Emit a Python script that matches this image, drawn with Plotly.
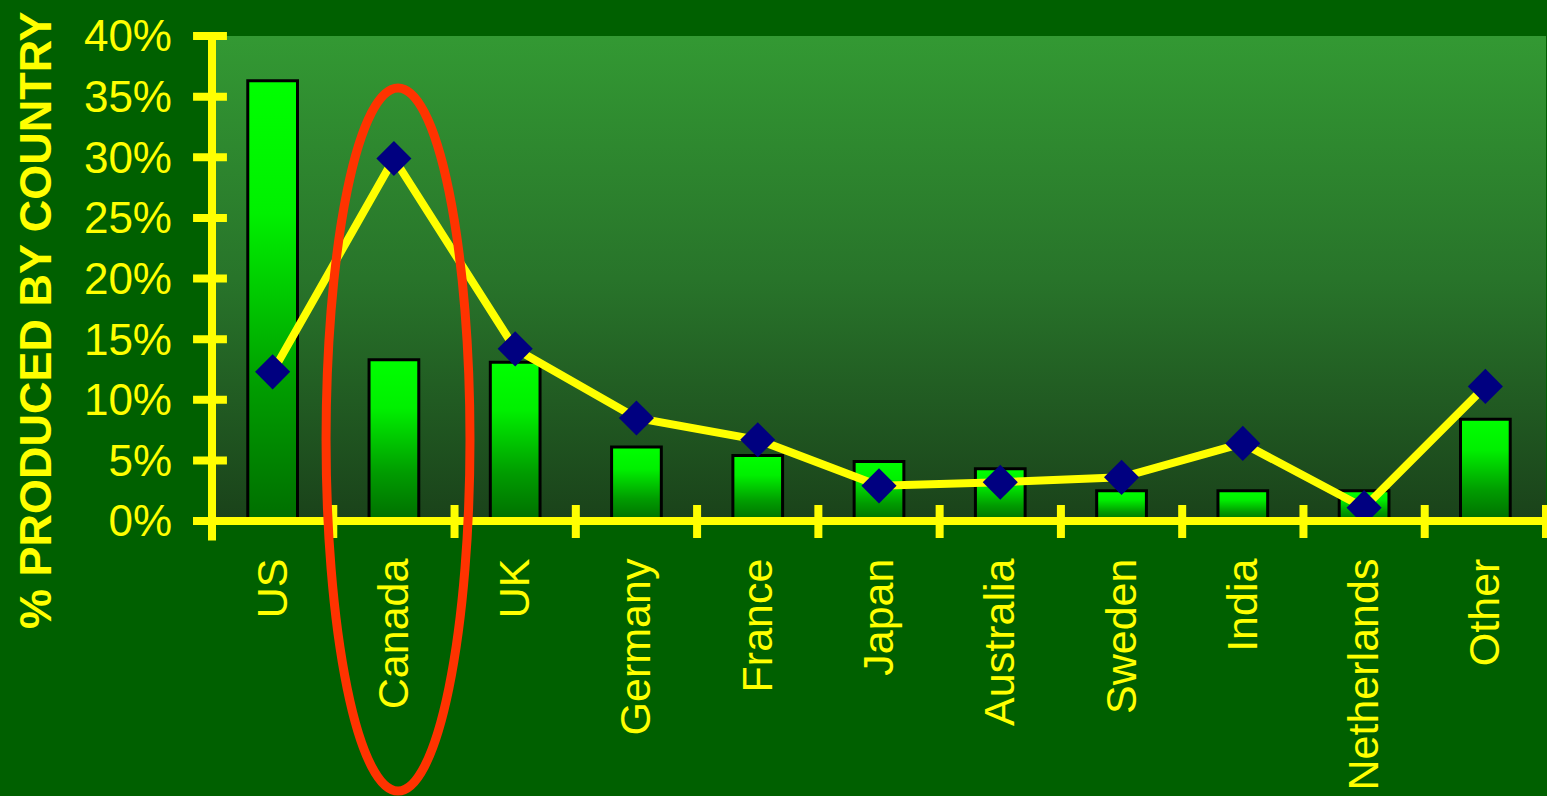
import plotly.graph_objects as go

# ---- data ----
countries = ["US", "Canada", "UK", "Germany", "France", "Japan",
             "Australia", "Sweden", "India", "Netherlands", "Other"]
bar_values = [36.3, 13.3, 13.1, 6.1, 5.4, 4.9, 4.3, 2.5, 2.5, 2.5, 8.4]
line_values = [12.3, 29.9, 14.2, 8.5, 6.7, 2.9, 3.2, 3.6, 6.4, 1.1, 11.1]
y_tick_values = [0, 5, 10, 15, 20, 25, 30, 35, 40]
y_tick_labels = ["0%", "5%", "10%", "15%", "20%", "25%", "30%", "35%", "40%"]
y_title = "% PRODUCED BY COUNTRY"

YELLOW = "#ffff00"
OUTER = "#006000"
FONT = "Liberation Sans, Arial, sans-serif"

n = len(countries)
x_idx = list(range(n))
half_w = 0.205
y_max = y_tick_values[-1]

fig = go.Figure()

# plot-area gradient background
fig.add_trace(go.Scatter(
    x=[-0.5, -0.5, n - 0.5, n - 0.5, -0.5],
    y=[0, y_max, y_max, 0, 0],
    mode="lines", line=dict(width=0), fill="toself",
    fillgradient=dict(type="vertical",
                      colorscale=[[0, "rgb(26,66,26)"], [0.5, "rgb(40,116,42)"],
                                  [1, "rgb(51,153,51)"]]),
    hoverinfo="skip", showlegend=False))

# bars with vertical gradient
for i, v in zip(x_idx, bar_values):
    fig.add_trace(go.Scatter(
        x=[i - half_w, i - half_w, i + half_w, i + half_w, i - half_w],
        y=[0, v, v, 0, 0],
        mode="lines", line=dict(color="black", width=3),
        fill="toself",
        fillgradient=dict(type="vertical",
                          colorscale=[[0, "#006e00"], [0.3, "#009c00"],
                                      [0.7, "#00f000"], [1, "#00ff00"]]),
        hoverinfo="skip", showlegend=False))

# line with diamond markers
fig.add_trace(go.Scatter(
    x=x_idx, y=line_values, mode="lines+markers",
    line=dict(color=YELLOW, width=8),
    marker=dict(symbol="diamond", size=27, color="#000080",
                line=dict(width=0)),
    showlegend=False))

shapes = []
# axis lines
shapes.append(dict(type="line", xref="paper", yref="paper",
                   x0=0, x1=0, y0=-0.04, y1=1.0,
                   line=dict(color=YELLOW, width=8), layer="above"))
shapes.append(dict(type="line", xref="paper", yref="paper",
                   x0=-0.0142, x1=1.0, y0=0, y1=0,
                   line=dict(color=YELLOW, width=8), layer="above"))
# y tick marks (crossing axis)
for t in y_tick_values:
    py = t / y_max
    shapes.append(dict(type="line", xref="paper", yref="paper",
                       x0=-0.0142, x1=0.0112, y0=py, y1=py,
                       line=dict(color=YELLOW, width=8), layer="above"))
# x tick marks at category boundaries
for i in range(1, n + 1):
    px = i / n
    shapes.append(dict(type="line", xref="paper", yref="paper",
                       x0=px, x1=px, y0=-0.035, y1=0.033,
                       line=dict(color=YELLOW, width=8), layer="above"))
# red highlight ellipse around Canada
shapes.append(dict(type="circle", xref="paper", yref="paper",
                   x0=0.0855, x1=0.1934, y0=-0.5567, y1=0.8928,
                   line=dict(color="#ff3300", width=9), layer="above"))

fig.update_layout(
    width=1547, height=796,
    margin=dict(l=212, r=1, t=36, b=275, autoexpand=False),
    paper_bgcolor=OUTER,
    plot_bgcolor=OUTER,
    showlegend=False,
    shapes=shapes,
    xaxis=dict(range=[-0.5, n - 0.5], tickvals=x_idx, ticktext=countries,
               tickangle=-90, showgrid=False, zeroline=False, showline=False,
               ticks="", ticklabelstandoff=28, automargin=False,
               tickfont=dict(family=FONT, size=43, color=YELLOW),
               fixedrange=True),
    yaxis=dict(range=[0, y_max], tickvals=y_tick_values, ticktext=y_tick_labels,
               showgrid=False, zeroline=False, showline=False,
               ticks="", ticklabelstandoff=39, automargin=False,
               tickfont=dict(family=FONT, size=44, color=YELLOW),
               fixedrange=True),
    annotations=[dict(text="<b>" + y_title + "</b>", xref="paper", yref="paper",
                      x=-0.1327, y=0.4144, xanchor="center", yanchor="middle",
                      textangle=-90, showarrow=False,
                      font=dict(family=FONT, size=45, color=YELLOW))],
)

fig.write_html("out.html")
